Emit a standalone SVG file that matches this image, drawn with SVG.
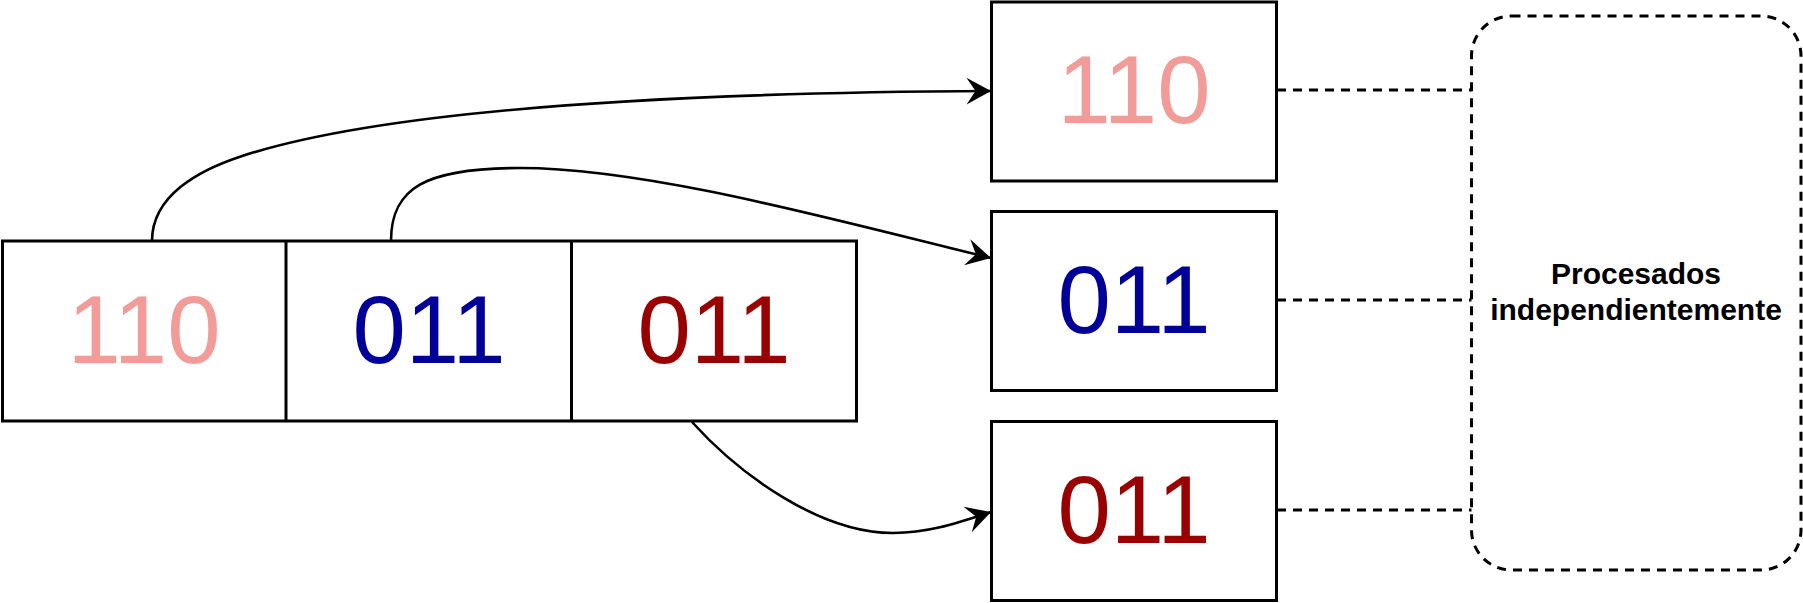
<svg xmlns="http://www.w3.org/2000/svg" width="1803" height="603" viewBox="0 0 1803 603">
  <style>
    .box { fill: #ffffff; stroke: #000000; stroke-width: 3; }
    .div { stroke: #000000; stroke-width: 3; }
    .num { font-family: "Liberation Sans", Arial, sans-serif; font-size: 96px; text-anchor: middle; }
    .pink { fill: #F19C99; }
    .blue { fill: #000099; }
    .red { fill: #990000; }
    .edge { fill: none; stroke: #000000; stroke-width: 2.6; marker-end: url(#arrow); }
    .dash { fill: none; stroke: #000000; stroke-width: 3; stroke-dasharray: 9 7; }
    .lbl { font-family: "Liberation Sans", Arial, sans-serif; font-size: 30px; font-weight: bold; text-anchor: middle; fill: #000000; }
  </style>
  <defs>
    <marker id="arrow" markerUnits="userSpaceOnUse" viewBox="-27 -15 29 30" refX="0" refY="0" markerWidth="29" markerHeight="30" orient="auto">
      <path d="M0 0 L-24.5 -13.3 L-15.5 0 L-24.5 13.3 Z" fill="#000000"/>
    </marker>
  </defs>
  <rect width="1803" height="603" fill="#ffffff"/>

  <g id="source">
    <rect class="box" x="2.5" y="241" width="854" height="180"/>
    <line class="div" x1="286" y1="241" x2="286" y2="421"/>
    <line class="div" x1="571.5" y1="241" x2="571.5" y2="421"/>
    <text class="num pink" x="144" y="363">110</text>
    <text class="num blue" x="429" y="363">011</text>
    <text class="num red" x="714" y="363">011</text>
  </g>

  <g id="out1">
    <rect class="box" x="991.5" y="2" width="285" height="179"/>
    <text class="num pink" x="1134" y="123">110</text>
  </g>
  <g id="out2">
    <rect class="box" x="991.5" y="211.5" width="285" height="179"/>
    <text class="num blue" x="1134" y="333">011</text>
  </g>
  <g id="out3">
    <rect class="box" x="991.5" y="421.5" width="285" height="179"/>
    <text class="num red" x="1134" y="543">011</text>
  </g>

  <g id="indep">
    <rect class="dash" x="1471.5" y="16" width="329.5" height="554" rx="40" ry="40"/>
    <text class="lbl" x="1636" y="284">Procesados</text>
    <text class="lbl" x="1636" y="320">independientemente</text>
  </g>

  <g id="connectors">
    <path class="edge" d="M152 241 C152 195, 200 170, 240 156.7 C360 117.1, 591 93, 991 91"/>
    <path class="edge" d="M391 241 C391 188, 425 168, 520 168 C650 168, 842 222, 991 258"/>
    <path class="edge" d="M692 422 C740 475, 820 533, 893 533 C930 533, 960 522, 991 512"/>
    <line class="dash" x1="1277" y1="90" x2="1471.5" y2="90"/>
    <line class="dash" x1="1277" y1="300" x2="1471.5" y2="300"/>
    <line class="dash" x1="1277" y1="510" x2="1471.5" y2="510"/>
  </g>
</svg>
